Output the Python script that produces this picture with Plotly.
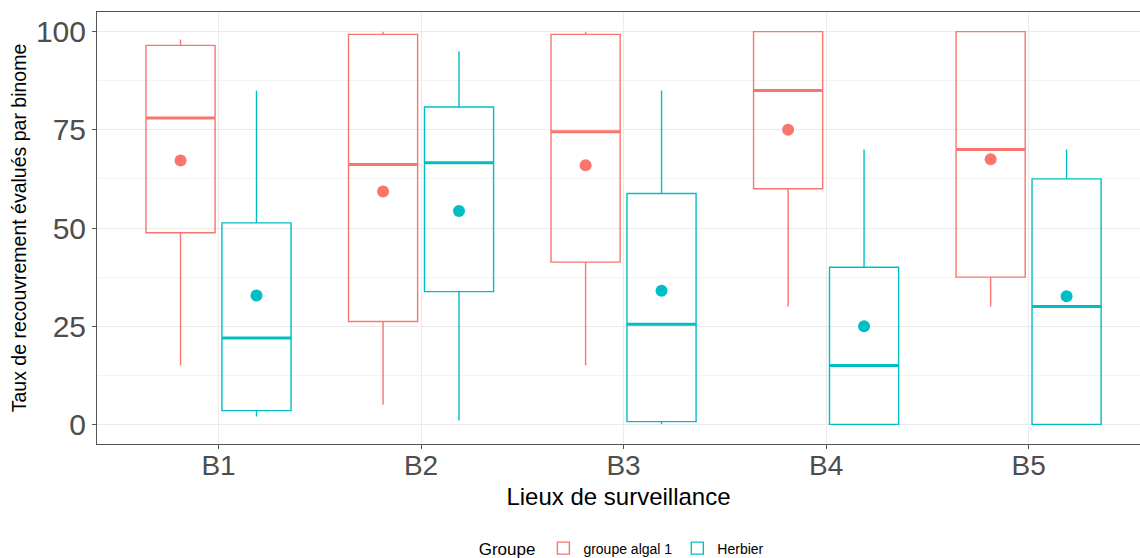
import plotly.graph_objects as go

sites = ["B1", "B2", "B3", "B4", "B5"]

alg_lo = [15.0, 5.0, 15.0, 30.0, 30.0]
alg_q1 = [48.8, 26.2, 41.3, 60.0, 37.5]
alg_med = [78.0, 66.2, 74.5, 85.0, 70.0]
alg_q3 = [96.5, 99.3, 99.3, 100.0, 100.0]
alg_hi = [98.0, 100.0, 100.0, 100.0, 100.0]
alg_mean = [67.2, 59.3, 66.0, 75.0, 67.5]

herb_lo = [2.0, 1.0, 0.0, 0.0, 0.0]
herb_q1 = [3.5, 33.8, 0.7, 0.0, 0.0]
herb_med = [22.0, 66.6, 25.5, 15.0, 30.0]
herb_q3 = [51.3, 80.8, 58.8, 40.0, 62.5]
herb_hi = [85.0, 95.0, 85.0, 70.0, 70.0]
herb_mean = [32.8, 54.3, 34.0, 25.0, 32.6]

RED = "#F8766D"
TEAL = "#00BFC4"

groups = [
    ("groupe algal 1", RED, "A", alg_lo, alg_q1, alg_med, alg_q3, alg_hi, alg_mean),
    ("Herbier", TEAL, "B", herb_lo, herb_q1, herb_med, herb_q3, herb_hi, herb_mean),
]

fig = go.Figure()
for name, col, og, lo, q1, med, q3, hi, mean in groups:
    fig.add_trace(go.Box(
        x=sites, q1=q1, median=med, q3=q3, lowerfence=lo, upperfence=hi,
        name=name, legendgroup=name, offsetgroup=og,
        line=dict(color=col, width=1.4), fillcolor="rgba(255,255,255,0)",
        whiskerwidth=0, boxpoints=False, hoverinfo="skip",
    ))
    # thicker median line (ggplot fatten)
    fig.add_trace(go.Box(
        x=sites, q1=med, median=med, q3=med, lowerfence=med, upperfence=med,
        name=name, legendgroup=name, offsetgroup=og, showlegend=False,
        line=dict(color=col, width=3), fillcolor="rgba(255,255,255,0)",
        whiskerwidth=0, boxpoints=False, hoverinfo="skip",
    ))
    fig.add_trace(go.Scatter(
        x=sites, y=mean, mode="markers", name=name, legendgroup=name,
        offsetgroup=og, showlegend=False,
        marker=dict(color=col, size=12), hoverinfo="skip",
    ))

fig.update_layout(
    width=1140, height=558,
    margin=dict(l=97, r=0, t=12, b=114, autoexpand=False),
    paper_bgcolor="white", plot_bgcolor="white",
    boxmode="group", boxgap=0.25, boxgroupgap=0.09,
    scattermode="group", scattergap=0.25,
    font=dict(family="Liberation Sans, Arial, sans-serif", color="black"),
    xaxis=dict(
        type="category", range=[-0.6, 4.55],
        showgrid=True, gridcolor="#EBEBEB", gridwidth=1.1,
        showline=True, linecolor="#555555", linewidth=1, mirror=True,
        ticks="outside", ticklen=4, tickcolor="#555555",
        tickfont=dict(size=28, color="#4D4D4D"), ticklabelstandoff=-8,
        title=dict(text="Lieux de surveillance", font=dict(size=24, color="black"), standoff=8),
        zeroline=False,
    ),
    yaxis=dict(
        range=[-5, 105], tickvals=[0, 25, 50, 75, 100],
        showgrid=True, gridcolor="#EBEBEB", gridwidth=1.1,
        minor=dict(dtick=12.5, tick0=0, showgrid=True, gridcolor="#F3F3F3", gridwidth=0.6),
        showline=True, linecolor="#555555", linewidth=1,
        ticks="outside", ticklen=4, tickcolor="#555555",
        tickfont=dict(size=30, color="#4D4D4D"),
        title=dict(text="Taux de recouvrement évalués par binome", font=dict(size=19.5, color="black"), standoff=4),
        zeroline=False,
    ),
    legend=dict(
        orientation="h", x=0.504, xanchor="center", y=-0.243, yanchor="middle",
        title=dict(text="Groupe", font=dict(size=17), side="left"),
        font=dict(size=14), itemwidth=30,
    ),
)

fig.write_html("out.html")
